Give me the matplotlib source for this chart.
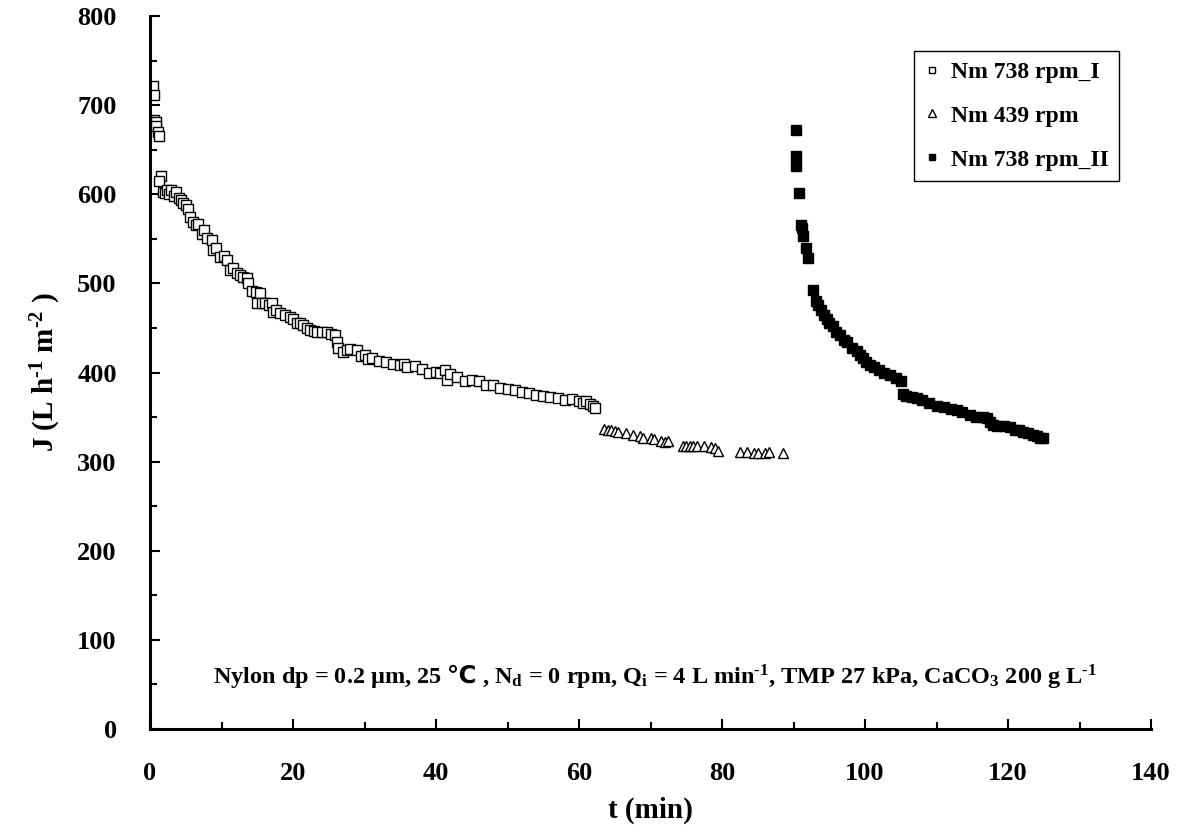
import matplotlib
matplotlib.use('Agg')
import matplotlib.pyplot as plt

plt.rcParams['font.family'] = ['Liberation Serif', 'DejaVu Serif']
plt.rcParams['font.weight'] = 'bold'
plt.rcParams['mathtext.fontset'] = 'custom'
plt.rcParams['mathtext.rm'] = 'Liberation Serif:bold'
plt.rcParams['mathtext.it'] = 'Liberation Serif:bold'
plt.rcParams['mathtext.bf'] = 'Liberation Serif:bold'
plt.rcParams['mathtext.sf'] = 'DejaVu Sans:bold'
plt.rcParams['mathtext.fallback'] = 'stix'

# Nm 738 rpm_I (open squares)
t1 = [0.4, 0.5, 0.5, 0.8, 0.9, 1.1, 1.3, 1.5, 1.3, 1.8, 2.1, 2.4, 2.7, 3.0, 3.3,
      3.7, 4.0, 4.3, 4.6, 5.0, 5.3, 5.6, 6.0, 6.4, 6.7, 7.2, 7.6, 8.0, 8.6, 8.8,
      9.2, 9.8, 10.3, 10.7, 11.2, 11.6, 12.1, 12.6, 13.0, 13.5, 13.7, 14.2, 14.8,
      15.4, 15.0, 15.6, 16.1, 16.6, 17.0, 17.2, 17.6, 18.2, 18.9, 19.6, 20.0,
      20.5, 21.0, 21.4, 22.0, 22.4, 23.0, 23.3, 24.0, 24.7, 25.3, 25.9, 26.1,
      26.3, 27.0, 27.5, 28.0, 28.9, 29.5, 30.0, 30.5, 31.0, 32.0, 33.0, 34.0,
      35.0, 35.5, 36.0, 37.0, 38.0, 39.0, 40.0, 40.5, 41.3, 41.5, 42.0, 43.0,
      44.0, 45.0, 46.0, 47.0, 48.0, 49.0, 50.0, 51.0, 52.0, 53.0, 54.0, 55.0,
      56.0, 57.0, 58.0, 59.0, 60.0, 60.5, 61.0, 61.5, 62.0, 62.3]
J1 = [721, 711, 683, 681, 677, 670, 665, 621, 615, 603, 601, 605, 600, 605, 598,
      603, 596, 594, 590, 588, 583, 574, 569, 566, 567, 555, 560, 551, 549, 538,
      540, 530, 531, 526, 515, 517, 512, 509, 507, 506, 500, 491, 490,
      489, 478, 478, 478, 476, 478, 468, 470, 467, 465, 462, 460,
      456, 455, 453, 450, 448, 447, 446, 445, 446, 443, 442, 434,
      428, 423, 425, 426, 425, 418, 420, 415, 416, 413, 412, 410,
      408, 409, 406, 407, 404, 400, 401, 399, 403, 392, 398, 395,
      391, 392, 390, 386, 386, 383, 381, 380, 378, 377, 375, 374,
      372, 371, 369, 370, 368, 366, 368, 365, 362, 360]

# Nm 439 rpm (open triangles)
t2 = [63.5, 64.0, 64.5, 65.0, 65.5, 66.5, 67.5, 68.5, 69.0, 70.0, 70.5, 71.5,
      72.0, 72.5, 74.5, 75.0, 75.5, 76.0, 76.5, 77.5, 78.5, 79.0, 79.5, 82.5,
      83.5, 84.5, 85.0, 86.0, 86.5, 88.5]
J2 = [337, 336, 335, 334, 333, 332, 330, 329, 327, 326, 325, 323,
      322, 323, 318, 318, 318, 318, 317, 317, 316, 315, 312, 311,
      311, 310, 310, 310, 311, 310]

# Nm 738 rpm_II (filled squares)
t3 = [90.3, 90.4, 90.4, 90.8, 91.0, 91.2, 91.3, 91.7, 92.0, 92.7, 93.1, 93.4,
      93.8, 94.2, 94.7, 95.0, 95.5, 96.0, 96.5, 97.0, 97.5, 98.2, 98.9, 99.3,
      99.7, 100.2, 100.7, 101.2, 102.0, 102.7, 103.5, 104.3, 105.0, 105.3,
      105.7, 106.5, 107.3, 108.0, 109.0, 110.0, 111.0, 112.0, 112.8, 113.5,
      114.7, 115.5, 116.5, 117.0, 117.5, 117.9, 118.5, 119.5, 120.3, 121.0,
      121.5, 122.1, 122.8, 123.5, 124.0, 124.5, 124.9]
J3 = [672, 643, 632, 601, 566, 562, 553, 540, 528, 493, 480, 476,
      470, 465, 460, 456, 452, 446, 442, 437, 434, 428, 424, 420,
      416, 412, 408, 406, 403, 400, 397, 394, 391, 376,
      374, 373, 371, 369, 366, 362, 361, 359, 358, 356,
      352, 350, 350, 349, 345, 341, 340, 340, 339, 336,
      336, 333, 332, 330, 329, 327, 327]

fig = plt.figure(figsize=(11.87, 8.34), dpi=100)
ax = fig.add_axes([0.1264, 0.1259, 0.8433, 0.8549])

ax.plot(t1, J1, 's', mfc='white', mec='black', ms=6.5, mew=1.0, ls='none', label='Nm 738 rpm_I')
ax.plot(t2, J2, '^', mfc='white', mec='black', ms=7, mew=1.0, ls='none', label='Nm 439 rpm')
ax.plot(t3, J3, 's', mfc='black', mec='black', ms=6.5, mew=1.0, ls='none', label='Nm 738 rpm_II')

ax.set_xlim(0, 140)
ax.set_ylim(0, 800)
ax.set_xticks(range(0, 141, 20))
ax.set_xticks(range(0, 141, 10), minor=True)
ax.set_yticks(range(0, 801, 100))
ax.set_yticks(range(0, 801, 50), minor=True)
ax.tick_params(which='both', direction='in', width=1.5, labelsize=19, pad=24)
ax.tick_params(which='major', length=7)
ax.tick_params(which='minor', length=5)
for s in ['top', 'right']:
    ax.spines[s].set_visible(False)
for s in ['left', 'bottom']:
    ax.spines[s].set_linewidth(2.2)

ax.set_xlabel('t (min)', fontsize=21, fontweight='bold', labelpad=8)
ax.set_ylabel(r'J (L h$^{\text{-1}}$ m$^{\text{-2}}$ )', fontsize=21, fontweight='bold', labelpad=10)

note = (r'Nylon dp = 0.2 μm, 25 $\mathsf{℃}$ , N$_{\mathrm{d}}$ = 0 rpm, Q$_{\mathrm{i}}$ = 4 L min$^{\text{-1}}$, '
        r'TMP 27 kPa, CaCO$_{\mathrm{3}}$ 200 g L$^{\text{-1}}$')
ax.text(70.7, 60, note, ha='center', va='center', fontsize=17.5, fontweight='bold')

leg = ax.legend(loc='upper right', bbox_to_anchor=(0.98, 0.968), fontsize=17, markerscale=0.75,
                handlelength=0.6, handletextpad=0.5, borderpad=0.45, labelspacing=0.95,
                fancybox=False, edgecolor='black', framealpha=1)
leg.get_frame().set_linewidth(1.0)

fig.savefig('out.png', dpi=100)
